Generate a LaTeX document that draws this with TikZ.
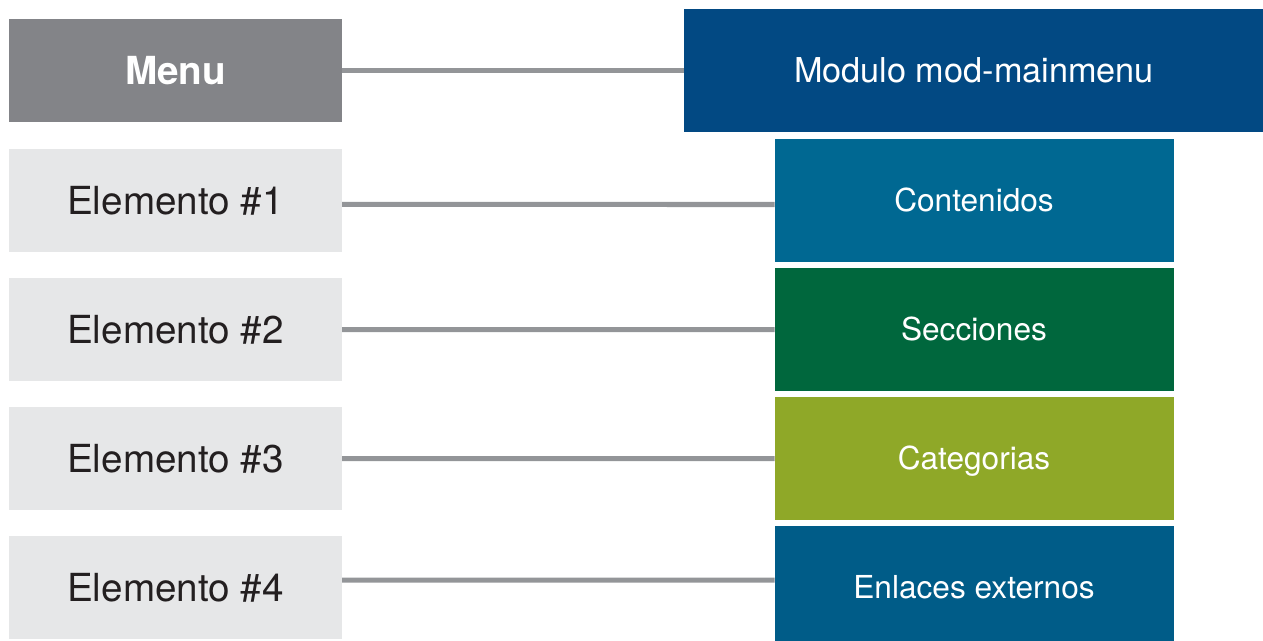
\documentclass[tikz,border=0pt]{standalone}
\usepackage{fontspec}
\setmainfont{TeX Gyre Heros}
\usepackage{xcolor}
\usepackage{tikz}
\usetikzlibrary{positioning}
\definecolor{menugray}{RGB}{131,132,136}
\definecolor{itemgray}{RGB}{230,231,232}
\definecolor{linkgray}{RGB}{147,149,152}
\definecolor{itemtext}{RGB}{35,31,32}
\definecolor{modblue}{RGB}{2,73,131}
\definecolor{contblue}{RGB}{0,104,146}
\definecolor{secgreen}{RGB}{0,103,61}
\definecolor{catgreen}{RGB}{143,168,40}
\definecolor{extblue}{RGB}{0,92,136}

\begin{document}
\begin{tikzpicture}[
  item/.style={minimum width=6.66cm,minimum height=2.06cm,inner sep=0pt,outer sep=0pt,
    fill=itemgray,text=itemtext,font=\fontsize{22}{26}\selectfont},
  mod/.style={minimum width=7.98cm,minimum height=2.46cm,inner sep=0pt,outer sep=0pt,
    text height=13pt,text depth=0pt,text=white,font=\fontsize{18}{22}\selectfont},
  link/.style={draw=linkgray,line width=0.1cm}]
  \useasboundingbox (0,0) rectangle (25.26,-12.82);
  % left column
  \node[item,fill=menugray,text=white,font=\bfseries\fontsize{22}{26}\selectfont] (menu) at (3.51,-1.41) {Menu};
  \node[item,below=0.54cm of menu] (e1) {Elemento \#1};
  \node[item,below=0.52cm of e1] (e2) {Elemento \#2};
  \node[item,below=0.52cm of e2] (e3) {Elemento \#3};
  \node[item,below=0.52cm of e3] (e4) {Elemento \#4};
  % right column
  \node[mod,fill=modblue,minimum width=11.6cm,font=\fontsize{19.5}{23}\selectfont,
    text height=14pt,text depth=0.5pt,right=6.84cm of menu] (modulo) {Modulo mod-mainmenu};
  \node[mod,fill=contblue,below=0.14cm of modulo] (cont) {Contenidos};
  \node[mod,fill=secgreen,below=0.12cm of cont] (sec) {Secciones};
  \node[mod,fill=catgreen,below=0.12cm of sec] (cat) {Categorias};
  \node[mod,fill=extblue,below=0.12cm of cat] (ext) {Enlaces externos};
  % links
  \draw[link] (menu) -- (modulo);
  \draw[link] ([yshift=-0.08cm]e1.east) -- ([yshift=-0.08cm]cont.west);
  \draw[link] (e2) -- (sec);
  \draw[link] (e3) -- (cat);
  \draw[link] ([yshift=0.15cm]e4.east) -- ([yshift=0.15cm]ext.west);
\end{tikzpicture}
\end{document}
